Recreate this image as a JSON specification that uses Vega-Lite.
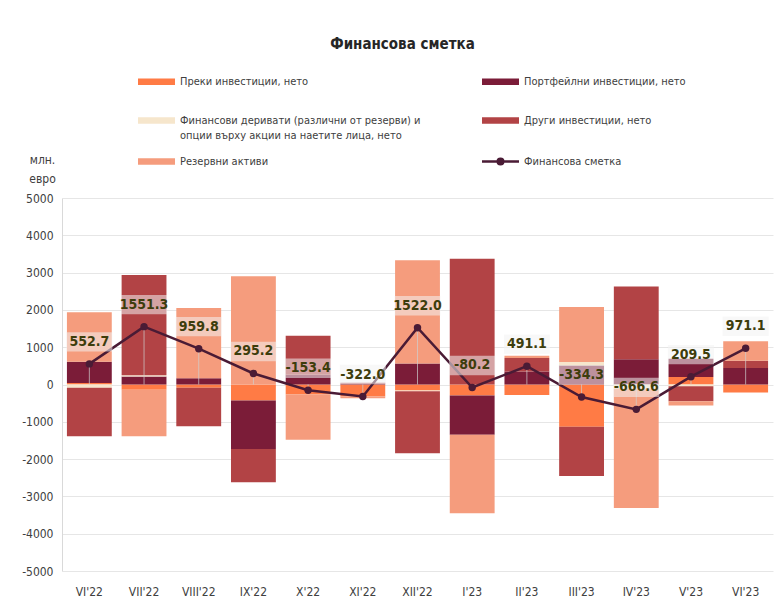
{
  "$schema": "https://vega.github.io/schema/vega-lite/v6.json",
  "width": 711,
  "height": 373,
  "autosize": {"type": "none"},
  "padding": {"left": 62, "top": 198, "right": 10, "bottom": 37},
  "background": "white",
  "title": {
    "text": "Финансова сметка",
    "fontSize": 15,
    "fontWeight": "bold",
    "color": "#262626",
    "anchor": "middle",
    "offset": 24,
    "dx": -15,
    "font": "Liberation Sans Narrow, Arial Narrow, DejaVu Sans Condensed, sans-serif"
  },
  "config": {
    "font": "Liberation Sans Narrow, Arial Narrow, DejaVu Sans Condensed, sans-serif",
    "locale": {"number": {"decimal": ".", "thousands": "", "grouping": [3], "currency": ["", ""], "minus": "-"}},
    "view": {"stroke": null},
    "axis": {
      "labelFont": "Liberation Sans Narrow, Arial Narrow, DejaVu Sans Condensed, sans-serif",
      "labelFontSize": 12,
      "labelColor": "#404040",
      "gridColor": "#e6e6e6",
      "ticks": false,
      "labelOverlap": false
    }
  },
  "datasets": {
    "series": [
      {"s": "Преки инвестиции, нето", "o": 1},
      {"s": "Портфейлни инвестиции, нето", "o": 2},
      {"s": "Финансови деривати (различни от резерви) и опции върху акции на наетите лица, нето", "o": 3},
      {"s": "Други инвестиции, нето", "o": 4},
      {"s": "Резервни активи", "o": 5}
    ],
    "bars": [
      {"m": "VI'22", "s": "Преки инвестиции, нето", "v": 40},
      {"m": "VI'22", "s": "Портфейлни инвестиции, нето", "v": 570},
      {"m": "VI'22", "s": "Финансови деривати (различни от резерви) и опции върху акции на наетите лица, нето", "v": -90},
      {"m": "VI'22", "s": "Други инвестиции, нето", "v": -1300},
      {"m": "VI'22", "s": "Резервни активи", "v": 1330},
      {"m": "VII'22", "s": "Преки инвестиции, нето", "v": -140},
      {"m": "VII'22", "s": "Портфейлни инвестиции, нето", "v": 215},
      {"m": "VII'22", "s": "Финансови деривати (различни от резерви) и опции върху акции на наетите лица, нето", "v": 30},
      {"m": "VII'22", "s": "Други инвестиции, нето", "v": 2690},
      {"m": "VII'22", "s": "Резервни активи", "v": -1250},
      {"m": "VIII'22", "s": "Преки инвестиции, нето", "v": -90},
      {"m": "VIII'22", "s": "Портфейлни инвестиции, нето", "v": 170},
      {"m": "VIII'22", "s": "Финансови деривати (различни от резерви) и опции върху акции на наетите лица, нето", "v": 0},
      {"m": "VIII'22", "s": "Други инвестиции, нето", "v": -1030},
      {"m": "VIII'22", "s": "Резервни активи", "v": 1880},
      {"m": "IX'22", "s": "Преки инвестиции, нето", "v": -430},
      {"m": "IX'22", "s": "Портфейлни инвестиции, нето", "v": -1300},
      {"m": "IX'22", "s": "Финансови деривати (различни от резерви) и опции върху акции на наетите лица, нето", "v": 0},
      {"m": "IX'22", "s": "Други инвестиции, нето", "v": -890},
      {"m": "IX'22", "s": "Резервни активи", "v": 2900},
      {"m": "X'22", "s": "Преки инвестиции, нето", "v": -270},
      {"m": "X'22", "s": "Портфейлни инвестиции, нето", "v": 260},
      {"m": "X'22", "s": "Финансови деривати (различни от резерви) и опции върху акции на наетите лица, нето", "v": 0},
      {"m": "X'22", "s": "Други инвестиции, нето", "v": 1050},
      {"m": "X'22", "s": "Резервни активи", "v": -1210},
      {"m": "XI'22", "s": "Преки инвестиции, нето", "v": -320},
      {"m": "XI'22", "s": "Портфейлни инвестиции, нето", "v": 30},
      {"m": "XI'22", "s": "Финансови деривати (различни от резерви) и опции върху акции на наетите лица, нето", "v": 0},
      {"m": "XI'22", "s": "Други инвестиции, нето", "v": 20},
      {"m": "XI'22", "s": "Резервни активи", "v": -50},
      {"m": "XII'22", "s": "Преки инвестиции, нето", "v": -160},
      {"m": "XII'22", "s": "Портфейлни инвестиции, нето", "v": 560},
      {"m": "XII'22", "s": "Финансови деривати (различни от резерви) и опции върху акции на наетите лица, нето", "v": -20},
      {"m": "XII'22", "s": "Други инвестиции, нето", "v": -1660},
      {"m": "XII'22", "s": "Резервни активи", "v": 2770},
      {"m": "I'23", "s": "Преки инвестиции, нето", "v": -295},
      {"m": "I'23", "s": "Портфейлни инвестиции, нето", "v": -1055},
      {"m": "I'23", "s": "Финансови деривати (различни от резерви) и опции върху акции на наетите лица, нето", "v": 0},
      {"m": "I'23", "s": "Други инвестиции, нето", "v": 3370},
      {"m": "I'23", "s": "Резервни активи", "v": -2100},
      {"m": "II'23", "s": "Преки инвестиции, нето", "v": -280},
      {"m": "II'23", "s": "Портфейлни инвестиции, нето", "v": 350},
      {"m": "II'23", "s": "Финансови деривати (различни от резерви) и опции върху акции на наетите лица, нето", "v": 0},
      {"m": "II'23", "s": "Други инвестиции, нето", "v": 360},
      {"m": "II'23", "s": "Резервни активи", "v": 60},
      {"m": "III'23", "s": "Преки инвестиции, нето", "v": -1130},
      {"m": "III'23", "s": "Портфейлни инвестиции, нето", "v": 510},
      {"m": "III'23", "s": "Финансови деривати (различни от резерви) и опции върху акции на наетите лица, нето", "v": 90},
      {"m": "III'23", "s": "Други инвестиции, нето", "v": -1320},
      {"m": "III'23", "s": "Резервни активи", "v": 1480},
      {"m": "IV'23", "s": "Преки инвестиции, нето", "v": 0},
      {"m": "IV'23", "s": "Портфейлни инвестиции, нето", "v": 680},
      {"m": "IV'23", "s": "Финансови деривати (различни от резерви) и опции върху акции на наетите лица, нето", "v": -110},
      {"m": "IV'23", "s": "Други инвестиции, нето", "v": 1950},
      {"m": "IV'23", "s": "Резервни активи", "v": -3200},
      {"m": "V'23", "s": "Преки инвестиции, нето", "v": 200},
      {"m": "V'23", "s": "Портфейлни инвестиции, нето", "v": 490},
      {"m": "V'23", "s": "Финансови деривати (различни от резерви) и опции върху акции на наетите лица, нето", "v": -50},
      {"m": "V'23", "s": "Други инвестиции, нето", "v": -400},
      {"m": "V'23", "s": "Резервни активи", "v": -110},
      {"m": "VI'23", "s": "Преки инвестиции, нето", "v": -215},
      {"m": "VI'23", "s": "Портфейлни инвестиции, нето", "v": 440},
      {"m": "VI'23", "s": "Финансови деривати (различни от резерви) и опции върху акции на наетите лица, нето", "v": 0},
      {"m": "VI'23", "s": "Други инвестиции, нето", "v": 197},
      {"m": "VI'23", "s": "Резервни активи", "v": 520}
    ],
    "totals": [
      {"m": "VI'22", "s": "Финансова сметка", "t": 552.7},
      {"m": "VII'22", "s": "Финансова сметка", "t": 1551.3},
      {"m": "VIII'22", "s": "Финансова сметка", "t": 959.8},
      {"m": "IX'22", "s": "Финансова сметка", "t": 295.2},
      {"m": "X'22", "s": "Финансова сметка", "t": -153.4},
      {"m": "XI'22", "s": "Финансова сметка", "t": -322.0},
      {"m": "XII'22", "s": "Финансова сметка", "t": 1522.0},
      {"m": "I'23", "s": "Финансова сметка", "t": -80.2},
      {"m": "II'23", "s": "Финансова сметка", "t": 491.1},
      {"m": "III'23", "s": "Финансова сметка", "t": -334.3},
      {"m": "IV'23", "s": "Финансова сметка", "t": -666.6},
      {"m": "V'23", "s": "Финансова сметка", "t": 209.5},
      {"m": "VI'23", "s": "Финансова сметка", "t": 971.1}
    ]
  },
  "encoding": {
    "x": {
      "field": "m",
      "type": "nominal",
      "sort": null,
      "scale": {"paddingInner": 0.18, "paddingOuter": 0.09},
      "axis": {"title": null, "labelAngle": 0, "domain": false, "labelPadding": 15, "grid": false}
    },
    "y": {
      "field": "v",
      "type": "quantitative",
      "scale": {"domain": [-5000, 5000], "nice": false},
      "axis": {
        "title": ["млн.", "евро"],
        "titleAngle": 0,
        "titleAlign": "center",
        "titleBaseline": "top",
        "titleX": -20,
        "titleY": -44,
        "titleFontWeight": "normal",
        "titleFontSize": 12,
        "titleColor": "#404040",
        "titleLineHeight": 19,
        "values": [-5000, -4000, -3000, -2000, -1000, 0, 1000, 2000, 3000, 4000, 5000],
        "tickCount": 12,
        "format": "d",
        "labelOverlap": false,
        "domain": true,
        "domainColor": "#d9d9d9",
        "labelPadding": 9
      }
    }
  },
  "layer": [
    {
      "data": {"name": "bars"},
      "transform": [
        {"lookup": "s", "from": {"data": {"name": "series"}, "key": "s", "fields": ["o"]}}
      ],
      "mark": {"type": "bar"},
      "encoding": {
        "y": {"field": "v", "type": "quantitative", "stack": "zero"},
        "order": {"field": "o", "type": "quantitative", "sort": "ascending"},
        "color": {
          "field": "s",
          "type": "nominal",
          "scale": {
            "domain": ["Преки инвестиции, нето", "Портфейлни инвестиции, нето", "Финансови деривати (различни от резерви) и опции върху акции на наетите лица, нето", "Други инвестиции, нето", "Резервни активи", "Финансова сметка"],
            "range": ["#FF7B45", "#7B1C38", "#F6E6CC", "#B24345", "#F59C7D", "#4A1B35"]
          },
          "legend": {
            "title": null,
            "orient": "none",
            "legendX": 89,
            "legendY": -122,
            "direction": "horizontal",
            "columns": 2,
            "columnPadding": 56,
            "rowPadding": 12,
            "symbolSize": 1369,
            "labelFontSize": 11,
            "labelColor": "#404040",
            "labelOffset": 18,
            "labelLimit": 400,
            "labelExpr": "datum.label == 'Финансови деривати (различни от резерви) и опции върху акции на наетите лица, нето' ? ['Финансови деривати (различни от резерви) и', 'опции върху акции на наетите лица, нето'] : (datum.label == 'Преки инвестиции, нето' || datum.label == 'Портфейлни инвестиции, нето') ? [datum.label, ' '] : datum.label",
            "encode": {
              "labels": {"update": {"lineHeight": {"value": 15}}},
              "symbols": {
                "update": {
                  "shape": {"signal": "datum.value == 'Финансова сметка' ? 'M-1,0H1M-0.15,0A0.15,0.15 0 1 0 0.15,0A0.15,0.15 0 1 0 -0.15,0Z' : 'M-1,-0.17H1V0.17H-1Z'"},
                  "fill": {"scale": "color", "field": "value"},
                  "stroke": {"scale": "color", "field": "value"},
                  "strokeWidth": {"signal": "datum.value == 'Финансова сметка' ? 2.5 : 0"},
                  "opacity": {"value": 1},
                  "fillOpacity": {"value": 1}
                }
              }
            }
          }
        }
      }
    },
    {
      "data": {"name": "totals"},
      "mark": {"type": "rule", "color": "#cfcfcf", "strokeWidth": 1, "opacity": 0.6},
      "encoding": {
        "y": {"datum": 0}
      }
    },
    {
      "data": {"name": "totals"},
      "mark": {"type": "rule", "color": "#cfcfcf", "strokeWidth": 1, "opacity": 0.7},
      "encoding": {
        "y": {"field": "t", "type": "quantitative"},
        "y2": {"datum": 0}
      }
    },
    {
      "data": {"name": "totals"},
      "mark": {"type": "line", "strokeWidth": 2.5, "point": {"filled": true, "size": 55}},
      "encoding": {
        "y": {"field": "t", "type": "quantitative"},
        "color": {"field": "s", "type": "nominal"}
      }
    },
    {
      "data": {"name": "totals"},
      "mark": {"type": "point", "shape": "M-1,-0.42H1V0.42H-1Z", "size": 2116, "filled": true, "color": "#f2f2f2", "opacity": 0.55, "yOffset": -22},
      "encoding": {
        "y": {"field": "t", "type": "quantitative"}
      }
    },
    {
      "data": {"name": "totals"},
      "mark": {"type": "text", "fontSize": 14, "fontWeight": "bold", "color": "#3d3d0c", "yOffset": -22, "baseline": "middle"},
      "encoding": {
        "y": {"field": "t", "type": "quantitative"},
        "text": {"field": "t", "type": "quantitative", "format": ".1f"}
      }
    }
  ]
}
